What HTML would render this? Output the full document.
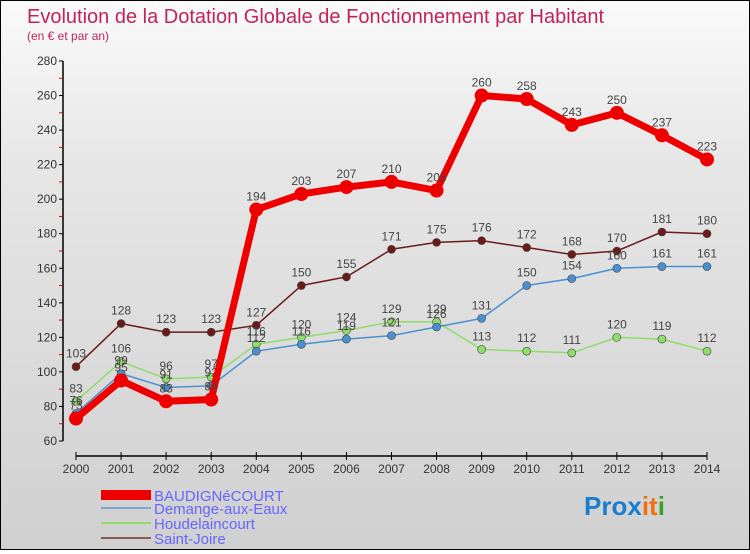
<!DOCTYPE html>
<html><head><meta charset="utf-8"><style>
html,body{margin:0;padding:0;}
body{width:750px;height:550px;overflow:hidden;font-family:"Liberation Sans",sans-serif;}
#c{position:absolute;left:0;top:0;width:748px;height:548px;border:1px solid #000;background:linear-gradient(#fafafa 0%,#e6e6e6 30%,#d0d0d0 100%);}
</style></head><body>
<div id="c">
<svg id="s" width="748" height="548" xmlns="http://www.w3.org/2000/svg">
<text x="26" y="22" font-size="20" fill="#c0245c">Evolution de la Dotation Globale de Fonctionnement par Habitant</text>
<text x="26" y="39" font-size="12" fill="#c0245c">(en € et par an)</text>
<g id="g"></g>
<g>
<rect x="100" y="489" width="50" height="10" fill="#e00"/>
<text x="153" y="500" font-size="15" fill="#6666ff">BAUDIGNéCOURT</text>
<rect x="100" y="506" width="50" height="2" fill="#7aa8d0"/>
<text x="153" y="513" font-size="15" fill="#6666ff">Demange-aux-Eaux</text>
<rect x="100" y="521" width="50" height="2" fill="#8fdc6a"/>
<text x="153" y="528" font-size="15" fill="#6666ff">Houdelaincourt</text>
<rect x="100" y="536" width="50" height="2" fill="#8a5a5a"/>
<text x="153" y="543" font-size="15" fill="#6666ff">Saint-Joire</text>
</g>
<text x="583" y="514" font-size="26" font-weight="bold"><tspan fill="#1a7ed0">Pro</tspan><tspan fill="#1a7ed0">x</tspan><tspan fill="#f07010">it</tspan><tspan fill="#3aa030">i</tspan></text>
</svg>
</div>
<script>
const years=[2000,2001,2002,2003,2004,2005,2006,2007,2008,2009,2010,2011,2012,2013,2014];
const baud=[73,95,83,84,194,203,207,210,205,260,258,243,250,237,223];
const demange=[76,99,91,92,112,116,119,121,126,131,150,154,160,161,161];
const houdel=[83,106,96,97,116,120,124,129,129,113,112,111,120,119,112];
const joire=[103,128,123,123,127,150,155,171,175,176,172,168,170,181,180];
const yTicks=[60,80,100,120,140,160,180,200,220,240,260,280];
const NS="http://www.w3.org/2000/svg";
const g=document.getElementById('g');
function X(i){return 75+i*(706-75)/(years.length-1);}
function Y(v){return 440-(v-60)*(380/220);}
function mk(t,a,p){const e=document.createElementNS(NS,t);for(const k in a)e.setAttribute(k,a[k]);(p||g).appendChild(e);return e;}
// y axis
let ya=mk('line',{x1:62,y1:60,x2:62,y2:440,stroke:'#000','stroke-width':1.5});


yTicks.forEach((v,i)=>{
  const t=mk('text',{x:56,y:Y(v)+4,'font-size':12,fill:'#333','text-anchor':'end'});
  t.textContent=v;
  
  
  const l=mk('line',{x1:58,y1:Y(v),x2:62,y2:Y(v),stroke:'#000'});
  
  
  if(i<yTicks.length-1){const m=mk('line',{x1:58,y1:Y(v+10),x2:61,y2:Y(v+10),stroke:'#e00'});
  
  }
});
// x axis
let xa=mk('line',{x1:75,y1:455,x2:706,y2:455,stroke:'#000','stroke-width':1.5});


years.forEach((y,i)=>{
  const l=mk('line',{x1:X(i),y1:451,x2:X(i),y2:459,stroke:'#000'});
  
  
  const t=mk('text',{x:X(i),y:472,'font-size':12,fill:'#333','text-anchor':'middle'});
  t.textContent=y;
  
  
});
function series(data,color,w,r,name){
  const pts=data.map((v,i)=>X(i)+','+Y(v)).join(' ');
  const pl=mk('polyline',{points:pts,fill:'none',stroke:color,'stroke-width':w,'stroke-linejoin':'round'});
  
  
  data.forEach((v,i)=>{
    const c=mk('circle',{cx:X(i),cy:Y(v),r:r,fill:color,stroke:'#444','stroke-width':r>5?0:0.6});
    
    
    const t=mk('text',{x:X(i),y:Y(v)-9,'font-size':12,fill:'#444','text-anchor':'middle'});
    t.textContent=v;
    
    
  });
}
series(joire,'#6b1a1a',1.5,4,'saint-joire');
series(houdel,'#8fdc6a',1.5,4,'houdelaincourt');
series(demange,'#4a90d0',1.5,4,'demange');
series(baud,'#ee0000',7,7,'baudignecourt');
</script>
</body></html>
